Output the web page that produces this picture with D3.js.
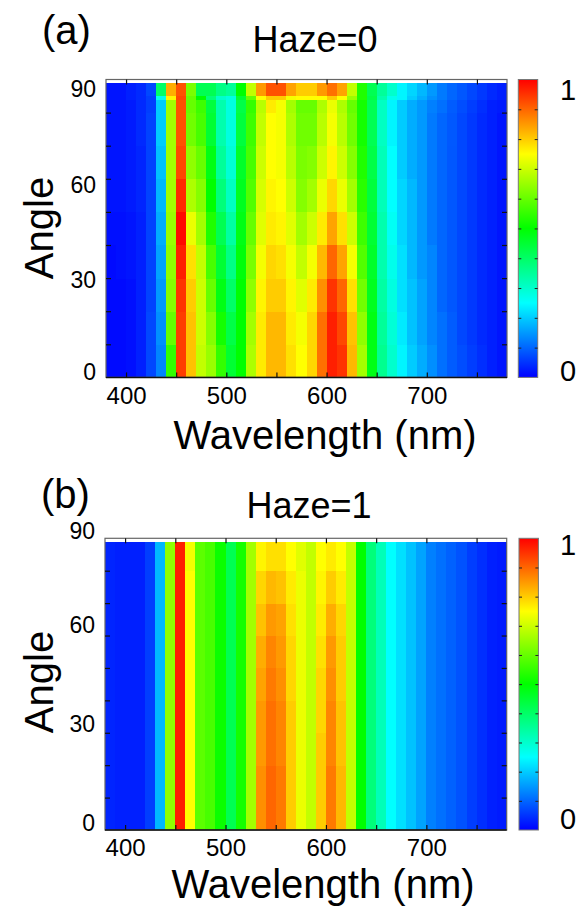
<!DOCTYPE html>
<html><head><meta charset="utf-8">
<script src="https://cdn.jsdelivr.net/npm/d3@7"></script>
<style>
body{margin:0;background:#fff}
svg{display:block}
text{font-family:"Liberation Sans",Arial,Helvetica,sans-serif;fill:#000}
</style>
</head><body>
<svg id="chart" width="582" height="909"></svg>
<script>
// ---------- DATA ----------
// wavelength bin edges (nm), 40 columns
const wavelengthEdges = [380,390,400,410,420,430,440,450,460,470,480,490,500,510,520,530,540,550,560,570,580,590,600,610,620,630,640,650,660,670,680,690,700,710,720,730,740,750,760,770,780];
// angle band edges (deg) for each panel
const angleEdgesHaze0 = [0,10,20,30,40,50,60,70,80,84,85,89];
const angleEdgesHaze1 = [0,10,20,30,40,50,60,70,80,89];

// Haze=0 : one array per wavelength column, values per angle band (bottom -> top)
const haze0Columns = [
 [0.01,0.01,0.01,0.01,0.015,0.02,0.02,0.02,0.02,0.02,0.02],
 [0.01,0.01,0.01,0.015,0.015,0.02,0.02,0.02,0.02,0.02,0.02],
 [0.015,0.015,0.015,0.02,0.02,0.025,0.025,0.025,0.025,0.03,0.03],
 [0.03,0.03,0.03,0.03,0.03,0.035,0.035,0.04,0.04,0.04,0.04],
 [0.07,0.07,0.065,0.065,0.065,0.065,0.065,0.065,0.06,0.06,0.07],
 [0.13,0.14,0.15,0.16,0.17,0.18,0.19,0.2,0.2,0.27,0.4],
 [0.55,0.6,0.63,0.64,0.65,0.66,0.66,0.66,0.66,0.76,0.83],
 [0.94,0.94,0.95,0.97,0.99,0.96,0.93,0.92,0.92,0.93,0.92],
 [0.81,0.81,0.8,0.78,0.73,0.67,0.64,0.61,0.6,0.6,0.62],
 [0.69,0.7,0.7,0.69,0.66,0.63,0.6,0.57,0.56,0.5,0.42],
 [0.65,0.63,0.6,0.57,0.53,0.5,0.48,0.45,0.44,0.38,0.42],
 [0.55,0.52,0.48,0.45,0.42,0.38,0.35,0.33,0.33,0.3,0.37],
 [0.45,0.43,0.4,0.37,0.34,0.31,0.29,0.28,0.28,0.28,0.35],
 [0.5,0.5,0.5,0.49,0.48,0.47,0.46,0.44,0.43,0.45,0.5],
 [0.67,0.66,0.64,0.62,0.6,0.58,0.57,0.56,0.55,0.6,0.69],
 [0.77,0.77,0.76,0.74,0.72,0.71,0.7,0.69,0.68,0.75,0.85],
 [0.82,0.82,0.8,0.79,0.77,0.76,0.75,0.75,0.77,0.8,0.92],
 [0.82,0.82,0.8,0.78,0.76,0.75,0.74,0.74,0.74,0.8,0.92],
 [0.78,0.77,0.76,0.74,0.72,0.7,0.68,0.67,0.66,0.74,0.84],
 [0.75,0.74,0.72,0.69,0.66,0.63,0.62,0.61,0.6,0.75,0.8],
 [0.79,0.79,0.77,0.74,0.7,0.66,0.63,0.61,0.6,0.75,0.8],
 [0.89,0.89,0.86,0.82,0.77,0.73,0.7,0.68,0.67,0.75,0.85],
 [0.97,0.97,0.95,0.9,0.84,0.79,0.76,0.74,0.73,0.8,0.89],
 [0.95,0.93,0.9,0.84,0.78,0.73,0.7,0.68,0.67,0.75,0.84],
 [0.82,0.81,0.78,0.74,0.7,0.66,0.63,0.61,0.6,0.65,0.69],
 [0.66,0.64,0.61,0.58,0.56,0.54,0.53,0.52,0.52,0.53,0.53],
 [0.48,0.48,0.47,0.46,0.45,0.44,0.43,0.42,0.42,0.43,0.42],
 [0.36,0.35,0.34,0.33,0.33,0.32,0.32,0.31,0.31,0.33,0.35],
 [0.3,0.29,0.28,0.27,0.26,0.25,0.25,0.24,0.24,0.27,0.3],
 [0.24,0.23,0.22,0.22,0.21,0.21,0.2,0.2,0.2,0.24,0.24],
 [0.2,0.19,0.19,0.18,0.18,0.18,0.17,0.17,0.17,0.2,0.21],
 [0.17,0.16,0.16,0.15,0.15,0.15,0.15,0.15,0.15,0.17,0.18],
 [0.14,0.13,0.13,0.13,0.12,0.12,0.12,0.12,0.125,0.14,0.15],
 [0.11,0.11,0.1,0.1,0.1,0.1,0.1,0.1,0.11,0.12,0.12],
 [0.09,0.09,0.085,0.085,0.085,0.085,0.085,0.086,0.09,0.1,0.1],
 [0.075,0.07,0.07,0.07,0.07,0.07,0.07,0.07,0.075,0.085,0.085],
 [0.06,0.055,0.055,0.055,0.055,0.055,0.055,0.055,0.06,0.07,0.07],
 [0.045,0.04,0.04,0.04,0.04,0.04,0.04,0.04,0.045,0.055,0.055],
 [0.03,0.03,0.03,0.03,0.03,0.03,0.03,0.03,0.03,0.04,0.04],
 [0.02,0.02,0.02,0.02,0.02,0.02,0.02,0.02,0.025,0.03,0.03]
];

// Haze=1 : one array per wavelength column, values per angle band (bottom -> top)
const haze1Columns = [
 [0.035,0.035,0.035,0.035,0.035,0.035,0.035,0.035,0.035],
 [0.03,0.03,0.03,0.03,0.03,0.03,0.03,0.03,0.03],
 [0.03,0.03,0.03,0.03,0.03,0.03,0.03,0.03,0.03],
 [0.03,0.03,0.03,0.03,0.03,0.03,0.03,0.03,0.03],
 [0.06,0.06,0.06,0.06,0.06,0.06,0.06,0.06,0.06],
 [0.18,0.18,0.18,0.18,0.18,0.18,0.18,0.18,0.18],
 [0.64,0.64,0.64,0.64,0.64,0.64,0.64,0.64,0.64],
 [0.97,0.97,0.97,0.97,0.97,0.97,0.97,0.97,0.97],
 [0.75,0.75,0.75,0.75,0.75,0.75,0.75,0.75,0.74],
 [0.59,0.59,0.59,0.59,0.59,0.59,0.59,0.59,0.59],
 [0.57,0.57,0.57,0.57,0.57,0.57,0.57,0.57,0.57],
 [0.51,0.51,0.51,0.51,0.51,0.51,0.51,0.51,0.51],
 [0.42,0.42,0.42,0.42,0.42,0.42,0.42,0.42,0.42],
 [0.52,0.52,0.52,0.52,0.52,0.52,0.52,0.52,0.52],
 [0.66,0.66,0.66,0.66,0.66,0.66,0.66,0.66,0.66],
 [0.86,0.86,0.85,0.85,0.84,0.83,0.81,0.79,0.76],
 [0.9,0.9,0.89,0.89,0.88,0.87,0.85,0.82,0.78],
 [0.88,0.88,0.87,0.87,0.86,0.85,0.84,0.81,0.78],
 [0.8,0.8,0.8,0.8,0.79,0.79,0.78,0.77,0.75],
 [0.73,0.73,0.73,0.73,0.73,0.73,0.73,0.73,0.72],
 [0.69,0.69,0.69,0.69,0.69,0.69,0.69,0.69,0.69],
 [0.8,0.8,0.8,0.79,0.79,0.78,0.77,0.76,0.75],
 [0.88,0.88,0.87,0.87,0.86,0.85,0.83,0.8,0.77],
 [0.82,0.82,0.81,0.81,0.8,0.8,0.79,0.77,0.75],
 [0.69,0.69,0.69,0.69,0.69,0.69,0.69,0.69,0.69],
 [0.5,0.5,0.5,0.5,0.5,0.5,0.5,0.5,0.5],
 [0.38,0.38,0.38,0.38,0.38,0.38,0.38,0.38,0.38],
 [0.32,0.32,0.32,0.32,0.32,0.32,0.32,0.32,0.32],
 [0.25,0.25,0.25,0.25,0.25,0.25,0.25,0.25,0.25],
 [0.22,0.22,0.22,0.22,0.22,0.22,0.22,0.22,0.22],
 [0.19,0.19,0.19,0.19,0.19,0.19,0.19,0.19,0.19],
 [0.16,0.16,0.16,0.16,0.16,0.16,0.16,0.16,0.16],
 [0.125,0.125,0.125,0.125,0.125,0.125,0.125,0.125,0.125],
 [0.11,0.11,0.11,0.11,0.11,0.11,0.11,0.11,0.11],
 [0.095,0.095,0.095,0.095,0.095,0.095,0.095,0.095,0.095],
 [0.08,0.08,0.08,0.08,0.08,0.08,0.08,0.08,0.08],
 [0.06,0.06,0.06,0.06,0.06,0.06,0.06,0.06,0.06],
 [0.045,0.045,0.045,0.045,0.045,0.045,0.045,0.045,0.045],
 [0.03,0.03,0.03,0.03,0.03,0.03,0.03,0.03,0.03],
 [0.025,0.025,0.025,0.025,0.025,0.025,0.025,0.025,0.025]
];

const xMinorTicks = [400,450,500,550,600,650,700,750];
const xTickLabels = [400,500,600,700];
const yMinorTicks = [10,20,30,40,50,60,70,80];
const yTickLabels = [0,30,60,90];
const colorTicks = [0.1,0.2,0.3,0.4,0.5,0.6,0.7,0.8,0.9];
const colorLabels = [0,1];
const colorStops = [0,0.25,0.5,0.75,1];
const colorStopColors = ["#0000ff","#00ffff","#00ff00","#ffff00","#ff0000"];

// ---------- DRAW ----------
const svg = d3.select("#chart");
const color = d3.scaleLinear().domain(colorStops).range(colorStopColors).clamp(true);

const defs = svg.append("defs");
const grad = defs.append("linearGradient").attr("id","cbgrad")
  .attr("x1","0").attr("y1","1").attr("x2","0").attr("y2","0");
grad.selectAll("stop").data(colorStops).join("stop")
  .attr("offset", d => d).attr("stop-color", d => color(d));

const FONT = '"Liberation Sans",Arial,sans-serif';

function drawPanel(cfg, columns, angleEdges) {
  const g = svg.append("g");
  const x = d3.scaleLinear().domain([380, 780]).range([cfg.left, cfg.right]);
  const y = d3.scaleLinear().domain([0, 90]).range([cfg.bottom, cfg.top]);
  const yLab = d3.scaleLinear().domain(yTickLabels).range(cfg.yLabPos);

  // cells
  const cells = [];
  columns.forEach((col, i) => col.forEach((v, j) => cells.push({i, j, v})));
  g.append("g").selectAll("rect").data(cells).join("rect")
    .attr("x", d => x(wavelengthEdges[d.i]))
    .attr("width", d => x(wavelengthEdges[d.i+1]) - x(wavelengthEdges[d.i]) + 0.4)
    .attr("y", d => y(angleEdges[d.j+1]))
    .attr("height", d => y(angleEdges[d.j]) - y(angleEdges[d.j+1]) + 0.4)
    .attr("fill", d => color(d.v))
    .attr("shape-rendering","crispEdges");

  // frame
  g.append("rect").attr("x", cfg.left).attr("y", cfg.top)
    .attr("width", cfg.right - cfg.left).attr("height", cfg.bottom - cfg.top)
    .attr("fill","none").attr("stroke","#666").attr("stroke-width",1.2);
  g.append("line").attr("x1",cfg.left).attr("x2",cfg.right).attr("y1",cfg.bottom).attr("y2",cfg.bottom)
    .attr("stroke","#111").attr("stroke-width",1.5);

  // inward ticks
  const tick = (axis, tr) => {
    const a = g.append("g").attr("transform", tr).call(axis);
    a.select(".domain").remove();
    a.selectAll("line").attr("stroke","#111").attr("stroke-width",1.2);
  };
  tick(d3.axisBottom(x).tickValues(xMinorTicks).tickSize(-5).tickFormat(""), `translate(0,${cfg.bottom})`);
  tick(d3.axisTop(x).tickValues(xMinorTicks).tickSize(-5).tickFormat(""), `translate(0,${cfg.top})`);
  tick(d3.axisLeft(y).tickValues(yMinorTicks).tickSize(-5).tickFormat(""), `translate(${cfg.left},0)`);
  tick(d3.axisRight(y).tickValues(yMinorTicks).tickSize(-5).tickFormat(""), `translate(${cfg.right},0)`);

  // x tick labels
  const xl = g.append("g").attr("transform", `translate(0,${cfg.bottom})`)
    .call(d3.axisBottom(x).tickValues(xTickLabels).tickSize(0).tickPadding(0));
  xl.select(".domain").remove();
  xl.selectAll("text").attr("font-size", 24).attr("y", cfg.xLabOffset).attr("dy", null)
    .attr("font-family", FONT).attr("fill","#000");

  // y tick labels
  const yl = g.append("g").attr("transform", `translate(${cfg.yLabX},0)`)
    .call(d3.axisLeft(yLab).tickValues(yTickLabels).tickSize(0).tickPadding(0));
  yl.select(".domain").remove();
  yl.selectAll("text").attr("font-size", 23).attr("x", 0)
    .attr("font-family", FONT).attr("fill","#000");

  // axis titles
  g.append("text").attr("x", cfg.xTitleX).attr("y", cfg.xTitleY).attr("text-anchor","middle")
    .attr("font-size", 40).text("Wavelength (nm)");
  g.append("text").attr("transform", `translate(${cfg.yTitleX},${cfg.yTitleY}) rotate(-90)`)
    .attr("text-anchor","middle").attr("font-size", 40).text("Angle");
  g.append("text").attr("x", cfg.panelX).attr("y", cfg.panelY).attr("font-size", 40).text(cfg.panel);
  g.append("text").attr("x", cfg.titleX).attr("y", cfg.titleY).attr("text-anchor","middle")
    .attr("font-size", 36).text(cfg.title);

  // colorbar
  const cb = d3.scaleLinear().domain([0,1]).range([cfg.bottom, cfg.top]);
  const cbLab = d3.scaleLinear().domain([0,1]).range(cfg.cbLabRange);
  g.append("rect").attr("x", cfg.cbX).attr("y", cfg.top).attr("width", cfg.cbW)
    .attr("height", cfg.bottom - cfg.top).attr("fill","url(#cbgrad)")
    .attr("stroke","#777").attr("stroke-width",1);
  const c1 = g.append("g").attr("transform", `translate(${cfg.cbX},0)`)
    .call(d3.axisLeft(cb).tickValues(colorTicks).tickSize(-3).tickFormat(""));
  c1.select(".domain").remove(); c1.selectAll("line").attr("stroke","#222");
  const c2 = g.append("g").attr("transform", `translate(${cfg.cbX + cfg.cbW},0)`)
    .call(d3.axisRight(cb).tickValues(colorTicks).tickSize(-3).tickFormat(""));
  c2.select(".domain").remove(); c2.selectAll("line").attr("stroke","#222");
  const cl = g.append("g").attr("transform", `translate(${cfg.cbLabX},0)`)
    .call(d3.axisRight(cbLab).tickValues(colorLabels).tickSize(0).tickPadding(0).tickFormat(d3.format("d")));
  cl.select(".domain").remove();
  cl.selectAll("text").attr("font-size", 29).attr("x", 0)
    .attr("font-family", FONT).attr("fill","#000");
}

drawPanel({
  left:106, right:507, top:79.5, bottom:377.4,
  yLabPos:[372.5, 280, 185, 89], yLabX:96, xLabOffset:27,
  xTitleX:325, xTitleY:449, yTitleX:53, yTitleY:228,
  panel:"(a)", panelX:42, panelY:44, title:"Haze=0", titleX:315, titleY:51.5,
  cbX:518.3, cbW:19.4, cbLabRange:[371, 90], cbLabX:560
}, haze0Columns, angleEdgesHaze0);

drawPanel({
  left:105, right:506.7, top:538.3, bottom:830,
  yLabPos:[823, 724.5, 624.7, 531], yLabX:95, xLabOffset:26,
  xTitleX:323, xTitleY:898, yTitleX:53, yTitleY:682,
  panel:"(b)", panelX:41, panelY:508, title:"Haze=1", titleX:309, titleY:518,
  cbX:519, cbW:19.4, cbLabRange:[819, 545], cbLabX:560
}, haze1Columns, angleEdgesHaze1);
</script>
</body></html>
